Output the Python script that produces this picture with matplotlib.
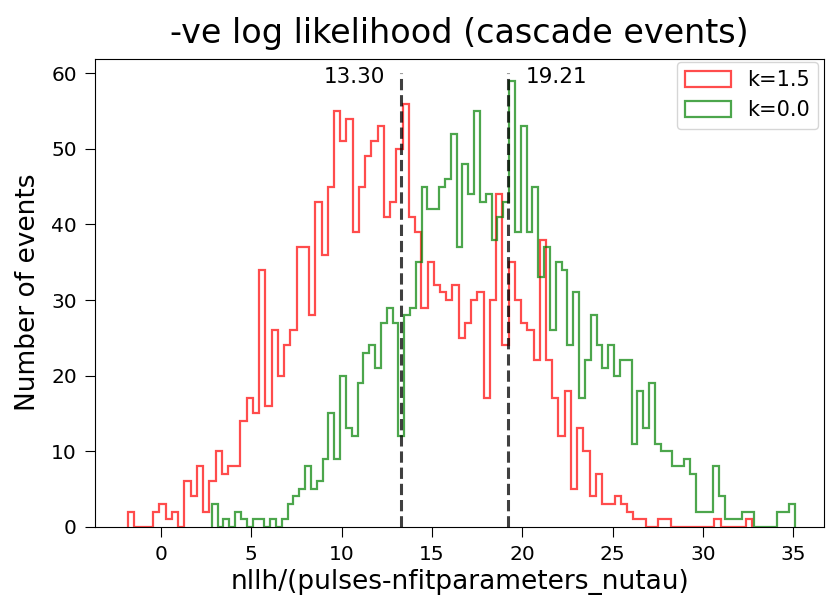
import numpy as np
import matplotlib
matplotlib.use('Agg')
import matplotlib.pyplot as plt

# 100 bins per sample, each over its own range
k15_range = (-1.81, 32.70)
k15_counts = [2, 0, 0, 0, 2, 3, 1, 2, 0, 6,
              4, 8, 2, 6, 10, 7, 8, 8, 14, 17,
              15, 34, 16, 26, 20, 24, 26, 37, 37, 28,
              43, 36, 45, 55, 51, 54, 39, 45, 49, 51,
              53, 41, 43, 50, 56, 41, 39, 29, 35, 32,
              31, 30, 32, 25, 27, 30, 31, 17, 30, 44,
              24, 35, 30, 27, 26, 22, 38, 22, 17, 12,
              18, 5, 13, 10, 4, 7, 3, 3, 4, 3,
              2, 1, 1, 0, 0, 1, 1, 0, 0, 0,
              0, 0, 0, 0, 1, 0, 0, 0, 0, 1]

k00_range = (2.81, 35.09)
k00_counts = [3, 0, 1, 0, 2, 1, 0, 1, 1, 0,
              1, 0, 1, 3, 4, 5, 8, 5, 6, 9,
              15, 9, 20, 13, 12, 19, 23, 24, 21, 27,
              29, 27, 12, 28, 29, 35, 45, 42, 42, 45,
              46, 52, 37, 48, 44, 55, 43, 44, 38, 41,
              43, 59, 39, 53, 39, 45, 33, 37, 26, 35,
              34, 24, 31, 17, 22, 28, 24, 21, 24, 20,
              22, 22, 11, 18, 13, 19, 11, 10, 10, 8,
              8, 9, 7, 2, 2, 2, 8, 4, 1, 1,
              1, 2, 2, 0, 0, 0, 0, 2, 2, 3]

labels = ['k=1.5', 'k=0.0']
colors = ['r', 'g']
medians = [13.30, 19.21]

fig = plt.figure(figsize=(8.26, 6.0), dpi=100)
ax = fig.add_axes([0.115, 0.1222, 0.8826, 0.7801])

for counts, rng, lab, col in zip([k15_counts, k00_counts], [k15_range, k00_range], labels, colors):
    edges = np.linspace(rng[0], rng[1], len(counts) + 1)
    ax.hist(edges[:-1], bins=edges, weights=counts, histtype='step',
            color=col, alpha=0.7, lw=1.6, label=lab)

ax.vlines(medians, 0, 60, colors='k', linestyles='dashed', lw=2.2, alpha=0.75)
ax.text(medians[0] - 0.9, 59.5, '%.2f' % medians[0], ha='right', va='center', fontsize=15.5)
ax.text(medians[1] + 1.0, 59.5, '%.2f' % medians[1], ha='left', va='center', fontsize=15.5)

ax.set_xlim(-3.65, 36.7)
ax.set_ylim(0, 61.95)
ax.set_xticks(np.arange(0, 36, 5))
ax.set_yticks(np.arange(0, 61, 10))
ax.tick_params(labelsize=14.5, length=7, pad=6)
ax.set_title('-ve log likelihood (cascade events)', fontsize=24, pad=11)
ax.set_xlabel('nllh/(pulses-nfitparameters_nutau)', fontsize=19, labelpad=4)
ax.set_ylabel('Number of events', fontsize=19, labelpad=7)
ax.legend(loc='upper right', fontsize=15, borderaxespad=0,
          bbox_to_anchor=(818 / 826, 1 - 61.7 / 600), bbox_transform=fig.transFigure,
          handlelength=2.2, handleheight=0.8, handletextpad=0.75)

fig.savefig('out.png', dpi=100)
